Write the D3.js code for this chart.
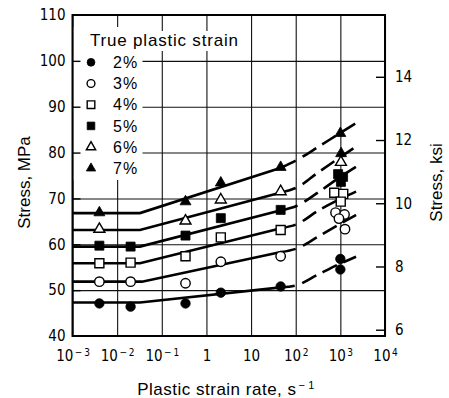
<!DOCTYPE html>
<html>
<head>
<meta charset="utf-8">
<script src="https://d3js.org/d3.v7.min.js"></script>
<style>
  body { margin: 0; background: #fff; }
</style>
</head>
<body>
<div id="chart"></div>
<script>
// axis ticks
var rateTicks = [1e-3, 1e-2, 1e-1, 1, 10, 1e2, 1e3, 1e4];
var rateBase = ["10", "10", "10", "1", "10", "10", "10", "10"];
var rateExp = ["\u2212\u20093", "\u2212\u20092", "\u2212\u20091", "", "", "2", "3", "4"];
var mpaTicks = [40, 50, 60, 70, 80, 90, 100, 110];
var ksiTicks = [6, 8, 10, 12, 14];

// series
var strains = ["2%", "3%", "4%", "5%", "6%", "7%"];
var shapes = ["circle", "circle", "square", "square", "triangle", "triangle"];
var filled = [true, false, false, true, false, true];

// measured points: [strain rate s^-1, stress MPa]
var pts2 = [[0.004, 47.1], [0.02, 46.4], [0.34, 47.1], [2.1, 49.45], [46, 50.8], [1000, 56.8], [1000, 54.5]];
var pts3 = [[0.004, 51.85], [0.02, 51.85], [0.34, 51.5], [2.1, 56.2], [46, 57.4], [780, 66.9], [1240, 66.5], [930, 65.6], [1270, 63.3]];
var pts4 = [[0.004, 55.85], [0.02, 56.0], [0.34, 57.4], [2.1, 61.5], [46, 63.1], [730, 71.25], [1160, 71.0], [1020, 69.3]];
var pts5 = [[0.004, 59.7], [0.02, 59.5], [0.34, 61.9], [2.1, 65.7], [46, 67.5], [890, 75.3], [1150, 74.7], [1030, 73.6]];
var pts6 = [[0.004, 63.3], [0.34, 65.1], [2.1, 69.7], [46, 71.5], [1030, 77.9]];
var pts7 = [[0.004, 66.9], [0.34, 69.3], [2.1, 73.4], [46, 76.8], [1000, 84.2], [1040, 79.8]];

// straight part of each fit: plateau then log-linear rise
var flat2 = [[0.001, 47.3], [0.0325, 47.3], [47, 50.6]];
var flat3 = [[0.001, 51.85], [0.036, 51.85], [47, 58.3]];
var flat4 = [[0.001, 55.85], [0.0325, 55.85], [47, 63.5]];
var flat5 = [[0.001, 59.5], [0.0325, 59.5], [47, 67.4]];
var flat6 = [[0.001, 63.1], [0.0325, 63.1], [47, 71.3]];
var flat7 = [[0.001, 66.8], [0.0325, 66.8], [47, 76.7]];
// upturn: solid up to about 100 s^-1, dashed beyond
var turn2 = [[47, 50.6], [100, 51.0], [316, 53.4], [1000, 55.8], [2245, 57.3]];
var turn3 = [[47, 58.3], [107, 59.1], [316, 61.65], [1000, 64.5], [2245, 66.4]];
var turn4 = [[47, 63.5], [107, 64.4], [316, 67.3], [1000, 69.9], [2245, 71.5]];
var turn5 = [[47, 67.4], [107, 68.4], [316, 71.3], [1000, 74.7], [2245, 76.9]];
var turn6 = [[47, 71.3], [107, 72.4], [316, 75.65], [1000, 79.0], [2245, 81.3]];
var turn7 = [[47, 76.7], [107, 78.4], [316, 81.2], [1000, 84.3], [2245, 86.4]];
var solidTo = [95, 100, 100, 110, 100, 100];

var points = [pts2, pts3, pts4, pts5, pts6, pts7];
var flats = [flat2, flat3, flat4, flat5, flat6, flat7];
var turns = [turn2, turn3, turn4, turn5, turn6, turn7];

var MPA_PER_KSI = 6.894757;
var numFont = "'Liberation Sans Narrow', 'Arial Narrow', 'DejaVu Sans Condensed', sans-serif";
var txtFont = "'Liberation Sans', Arial, Helvetica, sans-serif";

// set the dimensions and margins of the graph
var margin = {top: 15, right: 64, bottom: 62, left: 72.5},
    width = 449 - margin.left - margin.right,
    height = 398 - margin.top - margin.bottom;

var svg = d3.select("#chart")
  .append("svg")
    .attr("width", width + margin.left + margin.right)
    .attr("height", height + margin.top + margin.bottom)
  .append("g")
    .attr("transform", "translate(" + margin.left + "," + margin.top + ")");

var x = d3.scaleLog().domain([1e-3, 1e4]).range([0, width]);
var y = d3.scaleLinear().domain([40, 110]).range([height, 0]);
var yKsi = d3.scaleLinear().domain([40 / MPA_PER_KSI, 110 / MPA_PER_KSI]).range([height, 0]);

function noDomain(g) { g.select(".domain").remove(); }

// grid
svg.append("g")
    .attr("transform", "translate(0," + height + ")")
    .call(d3.axisBottom(x).tickValues(rateTicks).tickSize(-height).tickFormat(""))
    .call(noDomain)
    .selectAll("line").attr("stroke", "#111").attr("stroke-width", 1.1);
svg.append("g")
    .call(d3.axisLeft(y).tickValues(mpaTicks).tickSize(-width).tickFormat(""))
    .call(noDomain)
    .selectAll("line").attr("stroke", "#111").attr("stroke-width", 1.1);

// legend background hides the grid
svg.append("rect").attr("x", 1).attr("y", 12).attr("width", 69).attr("height", 153).attr("fill", "#fff");
svg.append("rect").attr("x", 15.5).attr("y", 16).attr("width", 156).attr("height", 20).attr("fill", "#fff");

// frame
svg.append("rect")
    .attr("width", width).attr("height", height)
    .attr("fill", "none").attr("stroke", "#000").attr("stroke-width", 2);

// left axis: inner ticks + labels
svg.append("g")
    .call(d3.axisRight(y).tickValues(mpaTicks.slice(1, -1)).tickSize(8).tickFormat(""))
    .call(noDomain)
    .selectAll("line").attr("stroke-width", 1.4);
svg.append("g")
    .call(d3.axisLeft(y).tickValues(mpaTicks).tickSize(0).tickPadding(7))
    .call(noDomain)
    .attr("font-family", numFont).attr("font-size", 15);

// right axis in ksi
svg.append("g")
    .attr("transform", "translate(" + width + ",0)")
    .call(d3.axisLeft(yKsi).tickValues(ksiTicks).tickSize(9).tickFormat(""))
    .call(noDomain)
    .selectAll("line").attr("stroke-width", 1.4);
svg.append("g")
    .attr("transform", "translate(" + width + ",0)")
    .call(d3.axisRight(yKsi).tickValues(ksiTicks).tickSize(0).tickPadding(10))
    .call(noDomain)
    .attr("font-family", numFont).attr("font-size", 15);

// bottom labels with exponents
var xAxis = svg.append("g")
    .attr("transform", "translate(0," + height + ")")
    .call(d3.axisBottom(x).tickValues(rateTicks).tickSize(0).tickPadding(14).tickFormat(""))
    .call(noDomain)
    .attr("font-family", numFont).attr("font-size", 15);
xAxis.selectAll(".tick text").each(function(d, i) {
  var t = d3.select(this);
  t.append("tspan").text(rateBase[i]);
  if (rateExp[i]) t.append("tspan").attr("dx", 1.5).attr("dy", -5).attr("font-size", 10).text(rateExp[i]);
});

// axis titles
var xt = svg.append("text")
    .attr("x", 153.5).attr("y", 380)
    .attr("text-anchor", "middle")
    .attr("font-family", txtFont).attr("font-size", 17)
    .attr("letter-spacing", 0.5)
    .text("Plastic strain rate, s");
xt.append("tspan").attr("dx", 2).attr("dy", -6).attr("font-size", 11).text("\u2212\u20091");

svg.append("text")
    .attr("transform", "rotate(-90)")
    .attr("x", -167.5).attr("y", -42.5)
    .attr("text-anchor", "middle")
    .attr("font-family", txtFont).attr("font-size", 17)
    .text("Stress, MPa");
svg.append("text")
    .attr("transform", "rotate(-90)")
    .attr("x", -167.5).attr("y", 369)
    .attr("text-anchor", "middle")
    .attr("font-family", txtFont).attr("font-size", 17)
    .text("Stress, ksi");

// curves
var line = d3.line().x(function(d) { return x(d[0]); }).y(function(d) { return y(d[1]); });
var curve = d3.line().curve(d3.curveMonotoneX).x(function(d) { return x(d[0]); }).y(function(d) { return y(d[1]); });

flats.forEach(function(s) {
  svg.append("path").attr("d", line(s))
      .attr("fill", "none").attr("stroke", "#000").attr("stroke-width", 2.6);
});
turns.forEach(function(s, i) {
  var p = svg.append("path").attr("d", curve(s))
      .attr("fill", "none").attr("stroke", "#000").attr("stroke-width", 2.6);
  // solid up to solidTo[i], then 16/7 dashes
  var node = p.node(), total = node.getTotalLength(), xs = x(solidTo[i]);
  var lo = 0, hi = total;
  for (var k = 0; k < 30; k++) {
    var mid = (lo + hi) / 2;
    if (node.getPointAtLength(mid).x < xs) lo = mid; else hi = mid;
  }
  var arr = [lo, 8];
  for (var L = lo + 8; L < total + 30; L += 23) arr.push(16, 7);
  p.attr("stroke-dasharray", arr.join(","));
});

// markers
var symType = {circle: d3.symbolCircle, square: d3.symbolSquare, triangle: d3.symbolTriangle};
var plotSize = {circle: 70, square: 81, triangle: 52};
var legSize = {circle: 48, square: 58, triangle: 38};

function marker(sel, i, sizes) {
  sel.attr("d", d3.symbol().type(symType[shapes[i]]).size(sizes[shapes[i]]))
     .attr("fill", filled[i] ? "#000" : "#fff")
     .attr("stroke", "#000")
     .attr("stroke-width", filled[i] ? 0.8 : 1.4);
}

points.forEach(function(p, i) {
  svg.selectAll(".m" + i)
    .data(p)
    .enter()
    .append("path")
      .attr("transform", function(d) { return "translate(" + x(d[0]) + "," + y(d[1]) + ")"; })
      .call(marker, i, plotSize);
});

// handmade legend
svg.append("text")
    .attr("x", 17.5).attr("y", 30.5)
    .attr("font-family", txtFont).attr("font-size", 17)
    .attr("letter-spacing", 0.8)
    .text("True plastic strain");
strains.forEach(function(s, i) {
  var ry = 47.3 + i * 21.2;
  svg.append("path").attr("transform", "translate(18.5," + ry + ")").call(marker, i, legSize);
  svg.append("text")
      .attr("x", 40.5).attr("y", ry).attr("dy", "0.36em")
      .attr("font-family", txtFont).attr("font-size", 16)
      .attr("letter-spacing", 1)
      .text(s);
});
</script>
</body>
</html>
